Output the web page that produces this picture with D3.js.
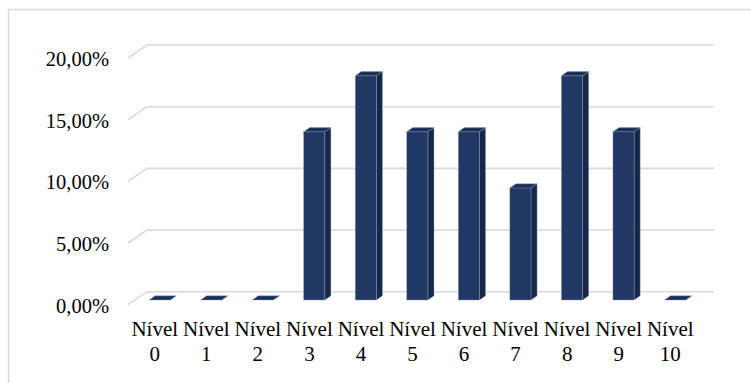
<!DOCTYPE html>
<html>
<head>
<meta charset="utf-8">
<script src="https://cdn.jsdelivr.net/npm/d3@7"></script>
<style>
  html, body { margin: 0; padding: 0; background: #fff; }
  svg { display: block; }
</style>
</head>
<body>
<svg id="chart" width="751" height="383"></svg>
<script>
// ---- data ----
const categories = ["Nível 0","Nível 1","Nível 2","Nível 3","Nível 4","Nível 5","Nível 6","Nível 7","Nível 8","Nível 9","Nível 10"];
const values = [0, 0, 0, 13.64, 18.18, 13.64, 13.64, 9.09, 18.18, 13.64, 0];
const yTicks = [0, 5, 10, 15, 20];
const tickLabels = ["0,00%", "5,00%", "10,00%", "15,00%", "20,00%"];

// ---- geometry ----
const svg = d3.select("#chart");
const W = 751, H = 383;
const depthDx = 19, depthDy = -13;      // floor / wall depth
const barFront = 0.36, barDepth = 0.32; // fractions of the depth

const x = d3.scaleBand().domain(categories).range([128, 695]).paddingInner(0).paddingOuter(0);
const yFront = d3.scaleLinear().domain([0, 20]).range([304.7, 58]);

// outer frame
svg.append("rect")
  .attr("x", 8.5).attr("y", 9.5)
  .attr("width", W + 10).attr("height", H + 10)
  .attr("fill", "none").attr("stroke", "#d9d9d9").attr("stroke-width", 1.5);

// gridlines (back wall + left side wall)
const grid = svg.append("g");
yTicks.forEach(t => {
  const yf = yFront(t);
  const x0 = x.range()[0], x1 = x.range()[1];
  grid.append("path")
    .attr("d", `M${x0},${yf} L${x0 + depthDx},${yf + depthDy} L${x1 + depthDx},${yf + depthDy}`)
    .attr("fill", "none").attr("stroke", "#d9d9d9").attr("stroke-width", 1.6);
});

// y tick labels
svg.append("g").selectAll("text").data(yTicks).join("text")
  .attr("x", 109)
  .attr("y", (d) => yFront(d) + 1)
  .attr("text-anchor", "end")
  .attr("dominant-baseline", "central")
  .attr("font-family", "'Liberation Serif', 'Times New Roman', serif")
  .attr("font-size", "20.5px")
  .attr("fill", "#000")
  .text((d, i) => tickLabels[i]);

// bars (3D columns)
const barW = x.bandwidth() * 0.41;
const fx = barFront * depthDx, fy = barFront * depthDy;
const bdx = barDepth * depthDx, bdy = barDepth * depthDy;
const bars = svg.append("g");
categories.forEach((c, i) => {
  const v = values[i];
  const left = x(c) + (x.bandwidth() - barW) / 2 + fx - 1;
  const right = left + barW;
  const top = yFront(v) + fy;
  const bottom = yFront(0) + fy;
  const g = bars.append("g");
  // side face
  g.append("path")
    .attr("d", `M${right},${bottom} L${right},${top} L${right + bdx},${top + bdy} L${right + bdx},${bottom + bdy} Z`)
    .attr("fill", "#15284a").attr("stroke", "#8f9fb8").attr("stroke-width", 0.4);
  // front face
  if (bottom - top > 0.5) {
    g.append("rect")
      .attr("x", left).attr("y", top)
      .attr("width", barW).attr("height", bottom - top)
      .attr("fill", "#213865").attr("stroke", "#8f9fb8").attr("stroke-width", 0.4);
  }
  // top face
  g.append("path")
    .attr("d", `M${left},${top} L${right},${top} L${right + bdx},${top + bdy} L${left + bdx},${top + bdy} Z`)
    .attr("fill", "#1a2f58").attr("stroke", "#8f9fb8").attr("stroke-width", 0.4);
});

// category labels
const lab = svg.append("g");
categories.forEach((c, i) => {
  const parts = c.split(" ");
  const cx = x(c) + x.bandwidth() / 2 + 1;
  const t = lab.append("text")
    .attr("text-anchor", "middle")
    .attr("font-family", "'Liberation Serif', 'Times New Roman', serif")
    .attr("font-size", "21px")
    .attr("fill", "#000");
  t.append("tspan").attr("x", cx).attr("y", 336).text(parts[0]);
  t.append("tspan").attr("x", cx).attr("y", 361).text(parts[1]);
});
</script>
</body>
</html>
